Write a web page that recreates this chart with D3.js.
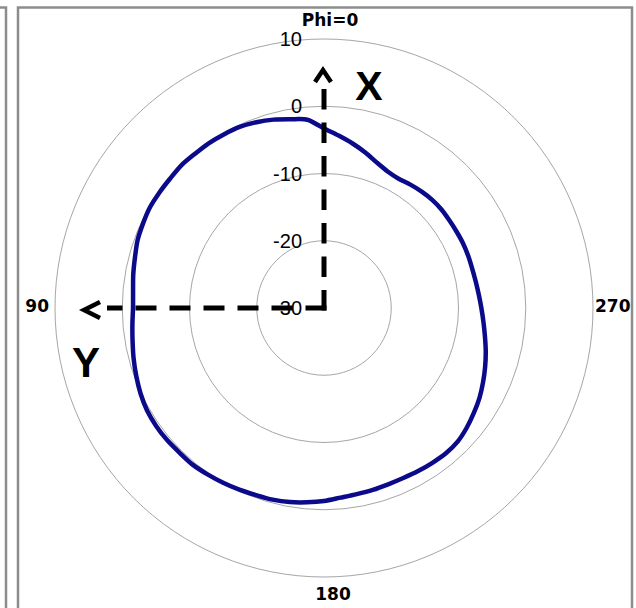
<!DOCTYPE html>
<html>
<head>
<meta charset="utf-8">
<script src="https://cdn.jsdelivr.net/npm/d3@7"></script>
<style>
  body { margin: 0; background: #fff; }
  svg { display: block; }
</style>
</head>
<body>
<svg id="chart" width="636" height="608"></svg>
<script>
// azimuth angles (deg, counter-clockwise from top)
var phi = [0, 5, 10, 15, 20, 25, 30, 35, 40, 45, 50, 55, 60, 65, 70, 75, 80, 85,
           90, 95, 100, 105, 110, 115, 120, 125, 130, 135, 140, 145, 150, 155, 160, 165, 170, 175,
           180, 185, 190, 195, 200, 205, 210, 215, 220, 225, 230, 235, 240, 245, 250, 255, 260, 265,
           270, 275, 280, 285, 290, 295, 300, 305, 310, 315, 320, 325, 330, 335, 340, 345, 350, 355];

// gain in dB
var gain = [-3.3, -1.9, -1.5, -1.0, -0.6, -0.3, -0.2, -0.1, -0.1, 0.0, -0.1, -0.1, -0.1, -0.3, -0.5, -0.9, -1.2, -1.5,
            -1.6, -1.4, -1.1, -0.7, -0.3, 0.1, 0.4, 0.5, 0.5, 0.4, 0.4, 0.2, 0.0, -0.2, -0.4, -0.5, -0.7, -1.0,
            -1.3, -1.7, -1.9, -2.0, -2.1, -2.1, -2.0, -1.9, -1.8, -1.9, -2.3, -2.8, -3.3, -3.9, -4.5, -5.1, -5.7, -6.2,
            -6.6, -6.9, -7.1, -7.2, -7.2, -7.2, -7.25, -7.25, -7.2, -7.25, -7.4, -7.6, -7.8, -7.6, -7.0, -6.1, -5.2, -4.3];

var radialTicks = [-30, -20, -10, 0, 10];
var ringValues = [-20, -10, 0, 10];
var angleTicks = [0, 90, 180, 270];
var angleTickText = ["Phi=0", "90", "180", "270"];

var svg = d3.select("#chart");
var cx = 324, cy = 308;

var r = d3.scaleLinear().domain([-30, 10]).range([0, 269]);

// chart frames
svg.append("path")
  .attr("d", "M0,7.5 H6 V608")
  .attr("fill", "none")
  .attr("stroke", "#8c8c8c")
  .attr("stroke-width", 2.5);

svg.append("rect")
  .attr("x", 18)
  .attr("y", 7.5)
  .attr("width", 614)
  .attr("height", 620)
  .attr("fill", "none")
  .attr("stroke", "#8c8c8c")
  .attr("stroke-width", 2.5);

var g = svg.append("g").attr("transform", "translate(" + cx + "," + cy + ")");

// rings
g.selectAll("circle.ring")
  .data(ringValues)
  .enter()
  .append("circle")
    .attr("class", "ring")
    .attr("r", function(d){ return r(d); })
    .attr("fill", "none")
    .attr("stroke", "#a6a6a6")
    .attr("stroke-width", 1);

// pattern curve
var line = d3.lineRadial()
  .angle(function(d, i){ return -phi[i] * Math.PI / 180; })
  .radius(function(d){ return r(d); })
  .curve(d3.curveCardinalClosed.tension(0.2));

g.append("path")
  .datum(gain)
  .attr("d", line)
  .attr("fill", "none")
  .attr("stroke", "#0a0a8a")
  .attr("stroke-width", 4.5)
  .attr("stroke-linejoin", "round");

// radial tick labels
g.selectAll("text.rtick")
  .data(radialTicks)
  .enter()
  .append("text")
    .attr("class", "rtick")
    .attr("x", -22)
    .attr("y", function(d){ return -r(d); })
    .attr("dy", "0.35em")
    .attr("text-anchor", "end")
    .text(function(d){ return d; })
    .style("font-family", "Liberation Sans, Arial, sans-serif")
    .style("font-size", "20px")
    .style("fill", "#000");

// angle labels
var anglePos = {
  0:   { x: 6,  y: -r(10) - 13, anchor: "middle" },
  90:  { x: -r(10) - 6, y: 3.5, anchor: "end" },
  180: { x: 9,  y: r(10) + 23, anchor: "middle" },
  270: { x: r(10) + 2, y: 3.5, anchor: "start" }
};

g.selectAll("text.atick")
  .data(angleTicks)
  .enter()
  .append("text")
    .attr("class", "atick")
    .attr("x", function(d){ return anglePos[d].x; })
    .attr("y", function(d){ return anglePos[d].y; })
    .attr("text-anchor", function(d){ return anglePos[d].anchor; })
    .text(function(d, i){ return angleTickText[i]; })
    .style("font-family", "DejaVu Sans, sans-serif")
    .style("font-weight", "bold")
    .style("font-size", "17px")
    .style("fill", "#000");

// X / Y axis annotation (dashed arrows)
var ax = svg.append("g").attr("class", "axes-note");

ax.append("path")
  .attr("d", "M" + cx + "," + (cy + 2.5) + " V87")
  .attr("stroke", "#000")
  .attr("stroke-width", 5)
  .attr("stroke-dasharray", "20.5,13")
  .attr("fill", "none");

ax.append("path")
  .attr("d", "M" + (cx + 2.5) + "," + cy + " H107")
  .attr("stroke", "#000")
  .attr("stroke-width", 5)
  .attr("stroke-dasharray", "21,13")
  .attr("fill", "none");

ax.append("path")
  .attr("d", "M315,82 L323,70 L331,82")
  .attr("stroke", "#000")
  .attr("stroke-width", 4.5)
  .attr("fill", "none");

ax.append("path")
  .attr("d", "M100,302 L84,310 L100,318")
  .attr("stroke", "#000")
  .attr("stroke-width", 4.5)
  .attr("fill", "none");

ax.append("text")
  .attr("x", 369)
  .attr("y", 100)
  .attr("text-anchor", "middle")
  .text("X")
  .style("font-family", "Liberation Sans, Arial, sans-serif")
  .style("font-weight", "bold")
  .style("font-size", "41px");

ax.append("text")
  .attr("x", 86)
  .attr("y", 377)
  .attr("text-anchor", "middle")
  .text("Y")
  .style("font-family", "Liberation Sans, Arial, sans-serif")
  .style("font-weight", "bold")
  .style("font-size", "42px");
</script>
</body>
</html>
